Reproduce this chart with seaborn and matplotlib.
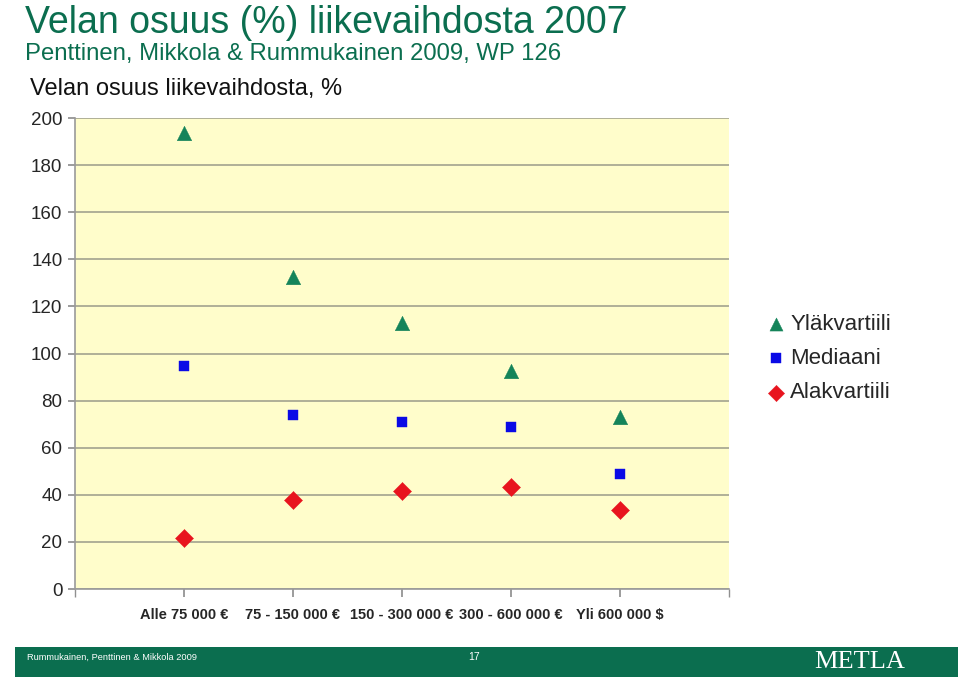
import pandas as pd
import matplotlib
matplotlib.use("Agg")
import matplotlib.pyplot as plt
import seaborn as sns
from matplotlib.patches import Rectangle

# Data
categories = ["Alle 75 000 €", "75 - 150 000 €", "150 - 300 000 €",
              "300 - 600 000 €", "Yli 600 000 $"]
ylakvartiili = [193.5, 132.5, 113, 92.5, 73]
mediaani = [94.5, 74, 71, 69, 49]
alakvartiili = [21.5, 38, 41.5, 43.5, 33.5]
series_names = ["Yläkvartiili", "Mediaani", "Alakvartiili"]

df = pd.DataFrame({
    "Tuloluokka": categories * 3,
    "Osuus": ylakvartiili + mediaani + alakvartiili,
    "Sarja": [s for s in series_names for _ in categories],
})

sns.set_theme(style="white")
plt.rcParams["font.family"] = ["Liberation Sans", "DejaVu Sans"]

GREEN = "#0B6E4F"
fig = plt.figure(figsize=(9.6, 6.79), dpi=100)
ax = fig.add_axes([0.0781, 0.1325, 0.6813, 0.6937])
ax.set_facecolor("#FFFDCB")

palette = {"Yläkvartiili": "#15845A", "Mediaani": "#0A0AE6", "Alakvartiili": "#E8141E"}
markers = {"Yläkvartiili": "^", "Mediaani": "s", "Alakvartiili": "D"}
sizes = {"Yläkvartiili": 110, "Mediaani": 55, "Alakvartiili": 85}

for name in series_names:
    sub = df[df["Sarja"] == name]
    sns.scatterplot(data=sub, x="Tuloluokka", y="Osuus", color=palette[name],
                    marker=markers[name], s=sizes[name], linewidth=0.3,
                    edgecolor=palette[name], label=name, ax=ax, zorder=3)

ax.set_xlim(-1, 5)
ax.set_ylim(0, 200)
ax.set_yticks(range(0, 201, 20))
ax.set_xticks(range(len(categories)))
ax.set_xticks([-1, 5], minor=True)
ax.set_xticklabels(categories, fontsize=10.5, fontweight="bold")
ax.tick_params(axis="y", labelsize=13.5, length=5, color="#909090", left=True, pad=4)
ax.tick_params(axis="x", which="both", length=6, color="#909090", bottom=True, pad=8)
ax.set_xlabel("")
ax.set_ylabel("")
ax.yaxis.grid(True, color="#A9A993", linewidth=1.3)
ax.set_axisbelow(True)
for side in ["top", "right"]:
    ax.spines[side].set_visible(False)
for side in ["left", "bottom"]:
    ax.spines[side].set_color("#9A9A9A")
    ax.spines[side].set_linewidth(1.2)

handles, labels = ax.get_legend_handles_labels()
ax.legend(handles, labels, loc="upper left", bbox_to_anchor=(0.801, 0.538),
          bbox_transform=fig.transFigure, frameon=False, fontsize=16,
          handlelength=0.6, handletextpad=0.35, labelspacing=0.6,
          borderpad=0, borderaxespad=0, markerscale=0.9)

# Slide titles
fig.text(25 / 960, 1 - 23 / 679, "Velan osuus (%) liikevaihdosta 2007",
         fontsize=27, color=GREEN, va="center", ha="left")
fig.text(25 / 960, 1 - 54 / 679, "Penttinen, Mikkola & Rummukainen 2009, WP 126",
         fontsize=17.2, color=GREEN, va="center", ha="left")
fig.text(30 / 960, 1 - 89 / 679, "Velan osuus liikevaihdosta, %",
         fontsize=17, color="#111111", va="center", ha="left")

# Footer band
fig.patches.append(Rectangle((15 / 960, 1 - 677 / 679), 943 / 960, 30 / 679,
                             transform=fig.transFigure, facecolor=GREEN,
                             edgecolor="none"))
fig.text(27 / 960, 1 - 657 / 679, "Rummukainen, Penttinen & Mikkola 2009",
         fontsize=6.7, color="white", va="center", ha="left")
fig.text(474 / 960, 1 - 657 / 679, "17", fontsize=7.5, color="white",
         va="center", ha="center")
fig.text(860 / 960, 1 - 662 / 679, "METLA", fontsize=19, color="white",
         va="center", ha="center", family=["Liberation Serif", "DejaVu Serif"])

fig.savefig("out.png", dpi=100)
